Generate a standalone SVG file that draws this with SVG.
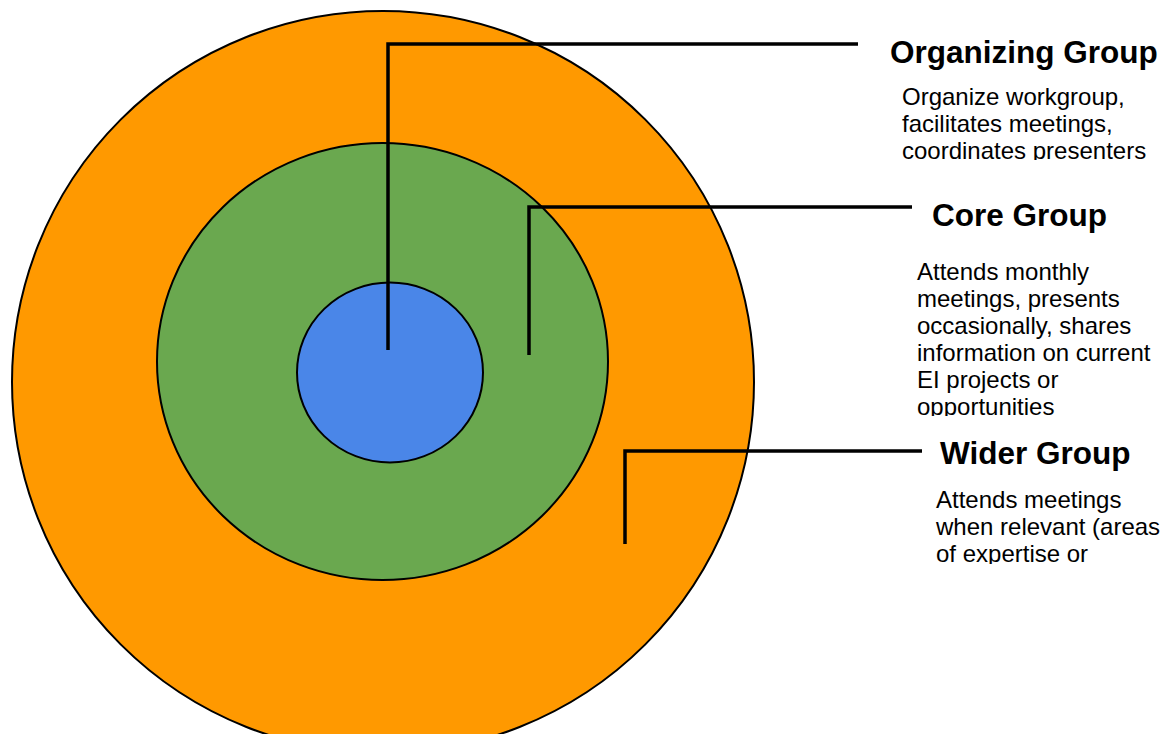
<svg xmlns="http://www.w3.org/2000/svg" width="1165" height="734" viewBox="0 0 1165 734">
<style>
.ring{stroke:#000;stroke-width:2}
.lead{fill:none;stroke:#000;stroke-width:3.5;stroke-linejoin:miter}
.title{font-family:"Liberation Sans",Arial,sans-serif;font-weight:bold;font-size:31.5px;fill:#000}
.body{font-family:"Liberation Sans",Arial,sans-serif;font-size:24px;fill:#000}
</style>
<defs>
<clipPath id="c1"><rect x="880" y="75" width="285" height="85"/></clipPath>
<clipPath id="c2"><rect x="900" y="250" width="265" height="166"/></clipPath>
<clipPath id="c3"><rect x="920" y="480" width="245" height="84"/></clipPath>
</defs>
<g id="wider-circle"><circle class="ring" cx="383" cy="382" r="371" fill="#FF9900"/></g>
<g id="core-circle"><ellipse class="ring" cx="382.5" cy="361.5" rx="225.5" ry="218.5" fill="#6AA84F"/></g>
<g id="organizing-circle"><ellipse class="ring" cx="390" cy="372.5" rx="93" ry="90" fill="#4A86E8"/></g>
<g id="connectors">
<path class="lead" d="M388,350 V44 H858"/>
<path class="lead" d="M529,355 V207 H912"/>
<path class="lead" d="M625,544 V451 H922"/>
</g>
<g id="organizing-label">
<text class="title" x="890" y="63">Organizing Group</text>
<g clip-path="url(#c1)">
<text class="body" x="902" y="105">Organize workgroup,</text>
<text class="body" x="902" y="132">facilitates meetings,</text>
<text class="body" x="902" y="159">coordinates presenters</text>
</g>
</g>
<g id="core-label">
<text class="title" x="932" y="226">Core Group</text>
<g clip-path="url(#c2)">
<text class="body" x="917" y="280">Attends monthly</text>
<text class="body" x="917" y="307">meetings, presents</text>
<text class="body" x="917" y="334">occasionally, shares</text>
<text class="body" x="917" y="361">information on current</text>
<text class="body" x="917" y="388">EI projects or</text>
<text class="body" x="917" y="415">opportunities</text>
</g>
</g>
<g id="wider-label">
<text class="title" x="940" y="464">Wider Group</text>
<g clip-path="url(#c3)">
<text class="body" x="936" y="508">Attends meetings</text>
<text class="body" x="936" y="535">when relevant (areas</text>
<text class="body" x="936" y="562">of expertise or</text>
</g>
</g>
</svg>
